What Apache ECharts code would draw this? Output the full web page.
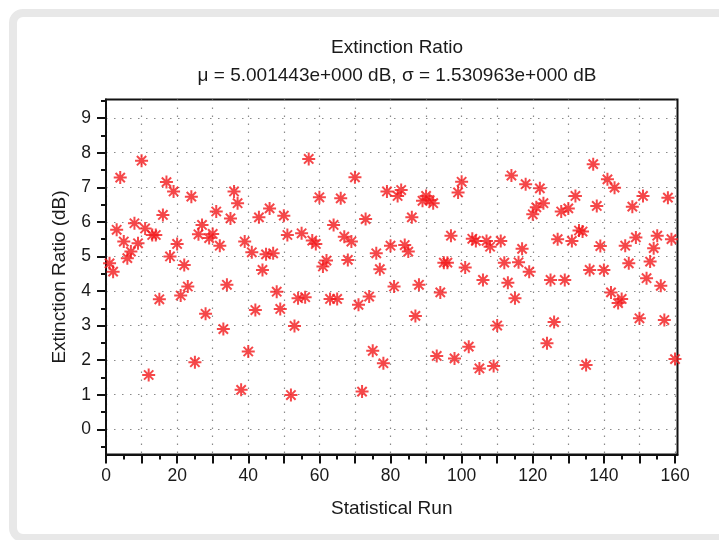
<!DOCTYPE html>
<html>
<head>
<meta charset="utf-8">
<script src="https://cdn.jsdelivr.net/npm/echarts@6/dist/echarts.min.js"></script>
<style>
  html, body { margin: 0; padding: 0; background: #fff; }
  #chart { width: 719px; height: 540px; }
</style>
</head>
<body>
<div id="chart"></div>
<script>
// extinction ratio (dB) per statistical run, run 1..160
var ratio = [
  4.80, 4.56, 5.77, 7.28, 5.43, 4.95, 5.14, 5.96, 5.38, 7.77,
  5.81, 1.57, 5.62, 5.62, 3.76, 6.20, 7.15, 5.00, 6.88, 5.36,
  3.87, 4.75, 4.13, 6.73, 1.94, 5.64, 5.91, 3.34, 5.53, 5.65,
  6.30, 5.31, 2.90, 4.18, 6.10, 6.88, 6.54, 1.14, 5.43, 2.25,
  5.12, 3.45, 6.13, 4.61, 5.06, 6.39, 5.09, 3.98, 3.48, 6.18,
  5.62, 0.99, 2.99, 3.79, 5.67, 3.82, 7.82, 5.46, 5.36, 6.71,
  4.71, 4.88, 3.77, 5.91, 3.77, 6.68, 5.57, 4.90, 5.43, 7.29,
  3.60, 1.09, 6.08, 3.84, 2.27, 5.09, 4.63, 1.91, 6.88, 5.31,
  4.13, 6.75, 6.92, 5.33, 5.14, 6.13, 3.28, 4.18, 6.61, 6.75,
  6.63, 6.54, 2.12, 3.96, 4.82, 4.82, 5.60, 2.05, 6.85, 7.16,
  4.68, 2.39, 5.51, 5.45, 1.76, 4.32, 5.45, 5.28, 1.83, 3.00,
  5.45, 4.82, 4.24, 7.34, 3.79, 4.83, 5.22, 7.09, 4.56, 6.22,
  6.42, 6.97, 6.54, 2.49, 4.32, 3.10, 5.50, 6.30, 4.32, 6.39,
  5.45, 6.75, 5.75, 5.72, 1.86, 4.61, 7.67, 6.46, 5.30, 4.61,
  7.23, 3.96, 6.99, 3.65, 3.77, 5.31, 4.80, 6.44, 5.55, 3.21,
  6.75, 4.37, 4.85, 5.24, 5.60, 4.15, 3.16, 6.70, 5.50, 2.03
]
var xMajorTicks = [0, 10, 20, 30, 40, 50, 60, 70, 80, 90, 100, 110, 120, 130, 140, 150, 160]
var xMinorTicks = [5, 15, 25, 35, 45, 55, 65, 75, 85, 95, 105, 115, 125, 135, 145, 155]
var xLabels = [0, 20, 40, 60, 80, 100, 120, 140, 160]
var yMajorTicks = [0, 1, 2, 3, 4, 5, 6, 7, 8, 9]
var yMinorTicks = [-0.5, 0.5, 1.5, 2.5, 3.5, 4.5, 5.5, 6.5, 7.5, 8.5, 9.5]
var titleText = 'Extinction Ratio'
var statsText = 'μ = 5.001443e+000 dB, σ = 1.530963e+000 dB'

var font = '"Liberation Sans", Arial, sans-serif'
var ink = '#1a1a1a'
var points = ratio.map(function (v, i) { return [i + 1, v] })

var chart = echarts.init(document.getElementById('chart'))
var option = {
  animation: false,
  graphic: [
    {
      type: 'rect',
      z: -10,
      shape: { x: 13, y: 13, width: 730, height: 525, r: 10 },
      style: { fill: null, stroke: '#e8e8e8', lineWidth: 8 }
    }
  ],
  title: [
    {
      text: titleText,
      left: 392,
      top: 33,
      textAlign: 'center',
      textStyle: { fontFamily: font, fontSize: 19, fontWeight: 'normal', color: ink }
    },
    {
      text: statsText,
      left: 392,
      top: 61,
      textAlign: 'center',
      textStyle: { fontFamily: font, fontSize: 19, fontWeight: 'normal', color: ink }
    }
  ],
  grid: {
    left: 106,
    top: 99.5,
    width: 571.5,
    height: 355,
    show: true,
    borderColor: '#111',
    borderWidth: 2
  },
  xAxis: [
    {
      type: 'value',
      min: 0,
      max: 160.7,
      minInterval: 10,
      maxInterval: 10,
      position: 'bottom',
      name: 'Statistical Run',
      nameLocation: 'middle',
      nameGap: 45,
      nameTextStyle: { fontFamily: font, fontSize: 19, color: ink },
      axisLine: { show: true, onZero: false, lineStyle: { color: '#111', width: 2 } },
      axisTick: { show: true, length: 9, customValues: xMajorTicks, lineStyle: { color: '#111', width: 2 } },
      axisLabel: { customValues: xLabels, margin: 13, fontFamily: font, fontSize: 17.5, color: ink },
      splitLine: { show: true, lineStyle: { color: '#8a8a8a', width: 1.2, type: [1.5, 6.5] } }
    },
    {
      type: 'value',
      min: 0,
      max: 160.7,
      position: 'bottom',
      axisLine: { show: false, onZero: false },
      axisTick: { show: true, length: 5, customValues: xMinorTicks, lineStyle: { color: '#111', width: 2 } },
      axisLabel: { show: false },
      splitLine: { show: false }
    }
  ],
  yAxis: [
    {
      type: 'value',
      min: -0.73,
      max: 9.54,
      minInterval: 1,
      maxInterval: 1,
      position: 'left',
      name: 'Extinction Ratio (dB)',
      nameLocation: 'middle',
      nameGap: 37,
      nameTextStyle: { fontFamily: font, fontSize: 19, color: ink },
      axisLine: { show: true, onZero: false, lineStyle: { color: '#111', width: 2 } },
      axisTick: { show: true, length: 9, customValues: yMajorTicks, lineStyle: { color: '#111', width: 2 } },
      axisLabel: { customValues: yMajorTicks, margin: 15, fontFamily: font, fontSize: 17.5, color: ink },
      splitLine: { show: true, lineStyle: { color: '#8a8a8a', width: 1.2, type: [1.5, 6.5] } }
    },
    {
      type: 'value',
      min: -0.73,
      max: 9.54,
      position: 'left',
      axisLine: { show: false, onZero: false },
      axisTick: { show: true, length: 5, customValues: yMinorTicks, lineStyle: { color: '#111', width: 2 } },
      axisLabel: { show: false },
      splitLine: { show: false }
    }
  ],
  series: [
    {
      type: 'scatter',
      xAxisIndex: 0,
      yAxisIndex: 0,
      data: points,
      symbol: 'path://M0,-6L0,6M-6,0L6,0M-4.3,-4.3L4.3,4.3M-4.3,4.3L4.3,-4.3',
      symbolSize: 13,
      symbolKeepAspect: true,
      itemStyle: { color: 'transparent', borderColor: '#f2191c', borderWidth: 2 },
      emphasis: { disabled: true }
    }
  ]
}
chart.setOption(option)
</script>
</body>
</html>
